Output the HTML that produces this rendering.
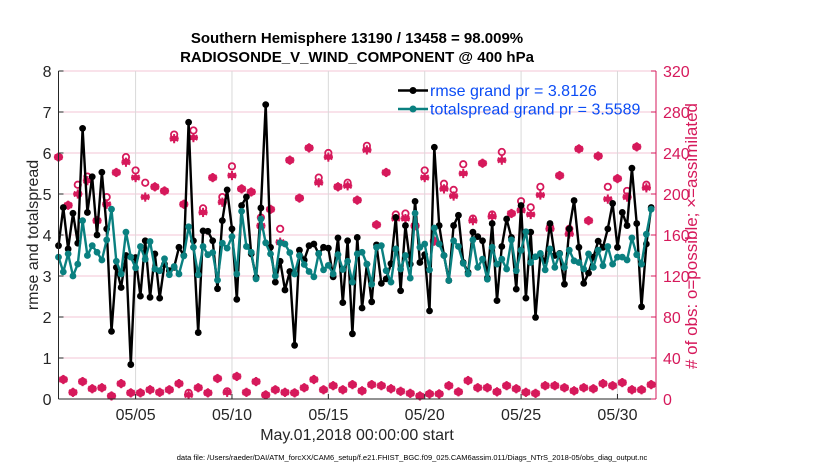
<!DOCTYPE html>
<html>
<head>
<meta charset="utf-8">
<style>
html,body{margin:0;padding:0;background:#fff;}
svg{display:block;font-family:"Liberation Sans",Arial,sans-serif;}
</style>
</head>
<body>
<svg id="chart" width="830" height="470" viewBox="0 0 830 470" xmlns="http://www.w3.org/2000/svg">
  <rect width="830" height="470" fill="#fff"/>
  <text x="357" y="43" text-anchor="middle" font-size="15" font-weight="bold" fill="#000">Southern Hemisphere 13190 / 13458 = 98.009%</text>
  <text x="357" y="62" text-anchor="middle" font-size="15" font-weight="bold" fill="#000">RADIOSONDE_V_WIND_COMPONENT @ 400 hPa</text>
  <g id="grid"></g>
  <g id="obs"></g>
  <g id="series"></g>
  <g id="axes"></g>
  <text transform="translate(38,235) rotate(-90)" text-anchor="middle" font-size="16" fill="#262626">rmse and totalspread</text>
  <text transform="translate(697,236) rotate(-90)" text-anchor="middle" font-size="17" fill="#d6195b"># of obs: o=possible; ×=assimilated</text>
  <text x="357" y="440" text-anchor="middle" font-size="16" fill="#262626">May.01,2018 00:00:00 start</text>
  <text x="412" y="460" text-anchor="middle" font-size="7.5" fill="#000">data file: /Users/raeder/DAI/ATM_forcXX/CAM6_setup/f.e21.FHIST_BGC.f09_025.CAM6assim.011/Diags_NTrS_2018-05/obs_diag_output.nc</text>
  <g>
    <line x1="398" y1="90.5" x2="428" y2="90.5" stroke="#000" stroke-width="2.5"/>
    <circle cx="413" cy="90.5" r="3.5" fill="#000"/>
    <text x="430" y="96" font-size="16" fill="#0b4cf5">rmse grand pr = 3.8126</text>
    <line x1="398" y1="109" x2="428" y2="109" stroke="#0a8080" stroke-width="2.5"/>
    <circle cx="413" cy="109" r="3.5" fill="#0a8080"/>
    <text x="430" y="114.5" font-size="16" fill="#0b4cf5">totalspread grand pr = 3.5589</text>
  </g>
</svg>
<script>
// ---- data ----
const rmse = [3.74,4.67,3.66,4.53,3.8,6.6,4.55,5.42,4.0,5.53,4.15,1.65,3.21,2.72,3.5,0.84,3.45,2.51,3.86,2.48,3.54,2.46,3.29,3.13,3.21,3.7,3.5,6.75,3.86,1.62,
4.1,
4.09,3.86,2.69,4.35,5.1,4.15,2.43,4.72,4.93,3.54,2.97,4.66,7.18,3.7,2.85,3.36,2.66,3.11,1.31,3.63,3.39,3.74,3.78,3.54,3.7,3.68,2.98,3.93,2.35,3.86,1.59,3.94,
2.22,3.29,2.37,3.76,2.82,2.93,3.3,4.43,2.64,4.23,3.29,4.82,3.33,3.52,2.15,6.14,4.23,3.5,2.89,4.23,4.48,3.33,3.09,4.07,3.96,3.86,2.95,4.28,2.4,3.72,4.39,
3.94,2.68,4.72,2.46,4.07,1.99,3.5,3.37,4.28,3.5,3.55,2.8,4.15,4.84,3.7,2.82,3.07,3.46,3.85,3.7,4.15,4.77,3.7,4.55,4.23,5.63,4.28,2.25,3.78,4.67];
const totalspread = [3.46,3.1,3.54,3.0,3.29,4.35,3.5,3.74,3.58,3.39,3.88,4.63,3.36,3.05,4.07,3.46,3.2,3.72,3.41,3.84,3.17,3.13,3.42,3.03,3.23,3.05,3.49,4.2,3.7,3.03,3.72,
3.52,3.57,2.9,3.8,3.68,3.96,3.05,4.58,3.72,3.58,2.93,4.39,3.81,3.54,3.0,3.81,3.78,3.57,3.05,3.5,3.28,3.11,2.98,3.55,3.15,3.26,3.05,3.52,3.16,3.36,2.85,3.54,
3.58,3.29,2.8,3.7,3.74,3.13,2.85,3.66,3.17,3.5,2.95,4.53,3.7,3.78,3.15,4.17,3.78,3.5,2.89,3.86,3.72,3.31,3.05,3.88,3.21,3.41,2.92,3.7,3.29,3.41,3.17,
3.88,3.13,3.63,4.08,3.33,3.47,3.55,3.15,3.66,3.21,3.54,3.21,3.63,3.37,3.33,3.17,3.54,3.21,3.63,3.25,3.72,3.29,3.46,3.46,3.39,3.93,3.52,3.29,4.02,4.63];
// counts at 00Z/12Z (even time index) and 06Z/18Z (odd time index)
const highAssim = [236,189,200,213,174,190,221,231,216,197,207,203,254,190,255,182,216,192,218,205,202,169,185,153,233,196,245,211,236,207,208,194,243,170,221,176,176,169,216,154,205,198,220,174,230,178,233,181,184,180,199,166,218,161,244,174,237,195,215,197,246,206];
const highPoss  = [236,189,209,217,174,197,221,236,223,211,207,203,258,190,262,186,216,197,227,205,202,177,185,166,233,196,245,216,240,207,211,194,247,170,221,180,181,169,223,154,210,204,229,176,230,180,241,181,193,187,207,168,218,166,244,174,237,207,215,203,246,209];
const lowAssim = [19,6.5,17,10,11,3,15,6,6,9,6.5,9,15,4,11,6,20,6.5,22,6.5,17,4,9,6.5,6,11,19,9,13,9,14,8,14,13,10,7.5,5.5,3,5,5,13,7,18,11,11,7,13,10,6.5,5.5,13,13,11,8,11,10,15,13,16,9,9,14];
const lowPoss  = [19,6.5,17,10,11,3,15,6,6,9,6.5,9,15,6,11,6,20,7.5,22,6.5,17,4,9,6.5,6,11,19,9,13,9,14,8,14,13,10,7.5,5.5,3,5,5,13,7,18,11,11,7,13,10,6.5,5.5,13,13,11,8,11,10,15,13,16,9,9,14];
const leftTicks = [0,1,2,3,4,5,6,7,8];
const rightTicks = [0,40,80,120,160,200,240,280,320];
const dateTickDays = [5,10,15,20,25,30];
const dateTickLabels = ["05/05","05/10","05/15","05/20","05/25","05/30"];

// ---- scales ----
const X0=58.5, X1=656, Y0=399, Y1=71;
const NSTEPS=124; // 6-hourly steps over 31 days
const xIdx = i => X0 + i*(X1-X0)/NSTEPS;
const xDay = d => X0 + (d-1)*(X1-X0)/31;
const yL = v => Y0 - v*(Y0-Y1)/8;
const yR = v => Y0 - v*(Y0-Y1)/320;
const NS="http://www.w3.org/2000/svg";
function mk(tag, attrs, parent){const e=document.createElementNS(NS,tag);for(const k in attrs)e.setAttribute(k,attrs[k]);parent.appendChild(e);return e;}
const grid=document.getElementById('grid'), axes=document.getElementById('axes'), obs=document.getElementById('obs'), ser=document.getElementById('series');
const MAG="#d6195b", TEAL="#0a8080";

// grid
leftTicks.forEach(t=>{ if(t===0)return;
  const g=mk('line',{x1:X0,x2:X1,y1:yL(t),y2:yL(t),stroke:"#f3c6d6","stroke-width":1},grid);
  
  
});
dateTickDays.forEach(d=>{
  const g=mk('line',{x1:xDay(d),x2:xDay(d),y1:Y1,y2:Y0,stroke:"#d9d9d9","stroke-width":1},grid);
  
  
});

// observation markers
function star(cx,cy,parent){
  const g=mk('g',{stroke:MAG,"stroke-width":2},parent);
  
  
  const r=4.6;
  [0,60,120].forEach(a=>{const rad=a*Math.PI/180;mk('line',{x1:cx-r*Math.sin(rad),y1:cy-r*Math.cos(rad),x2:cx+r*Math.sin(rad),y2:cy+r*Math.cos(rad)},g);});
  mk('line',{x1:cx-r,y1:cy,x2:cx+r,y2:cy},g);
  mk('circle',{cx:cx,cy:cy,r:3,fill:MAG,stroke:"none"},g);
}
function ring(cx,cy,parent){
  const c=mk('circle',{cx:cx,cy:cy,r:3.2,fill:"none",stroke:MAG,"stroke-width":1.8},parent);
  
  
}
highAssim.forEach((v,k)=>{star(xIdx(2*k),yR(v),obs);ring(xIdx(2*k),yR(highPoss[k]),obs);});
lowAssim.forEach((v,k)=>{star(xIdx(2*k+1),yR(v),obs);ring(xIdx(2*k+1),yR(lowPoss[k]),obs);});

// lines
function series(data,color,name){
  const pts=data.map((v,i)=>xIdx(i).toFixed(1)+","+yL(v).toFixed(1)).join(" ");
  const pl=mk('polyline',{points:pts,fill:"none",stroke:color,"stroke-width":2.4,"stroke-linejoin":"round"},ser);
  
  
  data.forEach((v,i)=>{
    const c=mk('circle',{cx:xIdx(i),cy:yL(v),r:3.4,fill:color},ser);
    
    
  });
}
series(rmse,"#000","rmse");
series(totalspread,TEAL,"totalspread");

// axes
let a=mk('line',{x1:X0,x2:X0,y1:Y1,y2:Y0,stroke:"#262626","stroke-width":1},axes);


a=mk('line',{x1:X0,x2:X1,y1:Y0,y2:Y0,stroke:"#262626","stroke-width":1},axes);


a=mk('line',{x1:X1,x2:X1,y1:Y1,y2:Y0,stroke:MAG,"stroke-width":1},axes);


leftTicks.forEach(t=>{
  mk('line',{x1:X0,x2:X0+5,y1:yL(t),y2:yL(t),stroke:"#262626"},axes);
  const tx=mk('text',{x:X0-7,y:yL(t)+6,"text-anchor":"end","font-size":16,fill:"#262626"},axes);
  tx.textContent=t;
  
  
});
rightTicks.forEach(t=>{
  mk('line',{x1:X1-5,x2:X1,y1:yR(t),y2:yR(t),stroke:MAG},axes);
  const tx=mk('text',{x:X1+7,y:yR(t)+6,"text-anchor":"start","font-size":16,fill:MAG},axes);
  tx.textContent=t;
  
  
});
dateTickDays.forEach((d,k)=>{
  mk('line',{x1:xDay(d),x2:xDay(d),y1:Y0,y2:Y0-5,stroke:"#262626"},axes);
  const tx=mk('text',{x:xDay(d),y:Y0+21,"text-anchor":"middle","font-size":16,fill:"#262626"},axes);
  tx.textContent=dateTickLabels[k];
  
  
});
</script>
</body>
</html>
